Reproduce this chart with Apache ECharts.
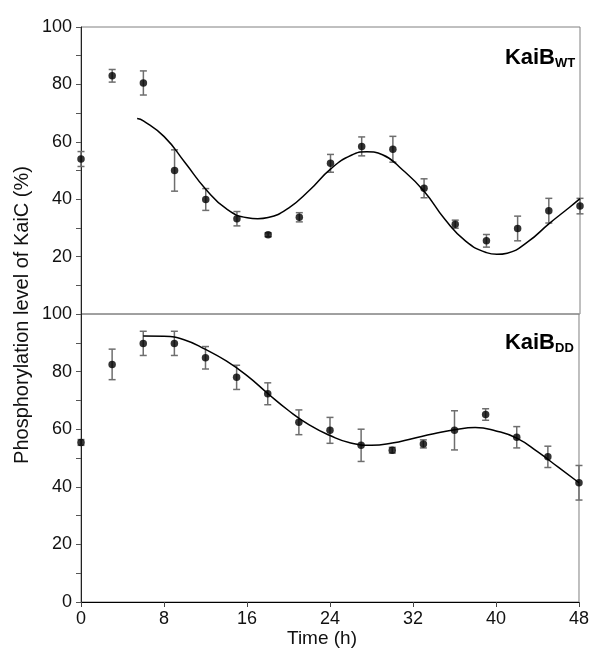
<!DOCTYPE html>
<html>
<head>
<meta charset="utf-8">
<script src="https://cdn.jsdelivr.net/npm/echarts@6/dist/echarts.min.js"></script>
<style>
  html, body { margin: 0; padding: 0; background: #fff; }
  #chart { width: 592px; height: 653px; }
</style>
</head>
<body>
<div id="chart"></div>
<script>
// sampling times (h)
const times = [0, 3, 6, 9, 12, 15, 18, 21, 24, 27, 30, 33, 36, 39, 42, 45, 48]

// KaiB WT (upper panel)
const wtValues = [54, 83, 80.5, 50, 39.9, 33.2, 27.6, 33.7, 52.5, 58.4, 57.4, 43.8, 31.3, 25.5, 29.8, 36, 37.6]
const wtErrors = [2.6, 2.2, 4.2, 7.2, 3.8, 2.5, 0.7, 1.6, 3.1, 3.3, 4.5, 3.3, 1.4, 2.2, 4.3, 4.3, 2.7]
// fitted curve
const wtFitTime = [5.4, 6, 8, 10, 12, 14, 16, 17, 18, 20, 22, 24, 26, 27.5, 29, 31, 33, 35, 37, 39, 40, 41, 43, 45, 47, 48]
const wtFitValue = [68.1, 67.3, 61.8, 52.8, 43.5, 36.6, 33.5, 33.2, 33.6, 37, 43.2, 50.5, 55.3, 56.5, 55.5, 50, 42.8, 33, 25.4, 21.4, 20.8, 21.2, 25.2, 31.4, 37.2, 40.2]

// KaiB DD (lower panel)
const ddValues = [55.4, 82.5, 89.8, 89.8, 84.8, 78, 72.3, 62.4, 59.6, 54.4, 52.7, 54.9, 59.6, 65.1, 57.2, 50.4, 41.4]
const ddErrors = [1, 5.3, 4.2, 4.2, 3.9, 4.2, 3.8, 4.3, 4.5, 5.6, 1, 1.4, 6.8, 2, 3.7, 3.7, 6]
const ddFitTime = [6, 8, 10, 12, 14, 16, 18, 20, 22, 24, 26, 28, 30, 32, 34, 36, 38, 40, 42, 44, 46, 48]
const ddFitValue = [92.4, 92.3, 91, 87.7, 83.7, 78.6, 72.4, 66.5, 61.5, 57.8, 55.2, 54.4, 55.2, 56.8, 58.4, 59.8, 60.6, 59.4, 56.9, 52.2, 46.8, 41.4]

const font = "'Liberation Sans', Arial, sans-serif"
const frameColor = '#808080'
const errColor = '#6e6e6e'

const myChart = echarts.init(document.getElementById('chart'))

// error bar: vertical line with two short caps
function renderErrorBar(params, api) {
    const x = api.value(0)
    const top = api.coord([x, api.value(2)])
    const bottom = api.coord([x, api.value(1)])
    const half = 3.5
    const style = { stroke: errColor, lineWidth: 1.5 }
    return {
        type: 'group',
        children: [
            { type: 'line', shape: { x1: top[0], y1: top[1], x2: bottom[0], y2: bottom[1] }, style },
            { type: 'line', shape: { x1: top[0] - half, y1: top[1], x2: top[0] + half, y2: top[1] }, style },
            { type: 'line', shape: { x1: bottom[0] - half, y1: bottom[1], x2: bottom[0] + half, y2: bottom[1] }, style }
        ]
    }
}

function errData(vals, errs) {
    return times.map((t, i) => [t, vals[i] - errs[i], vals[i] + errs[i]])
}

function yAxisFor(gridIndex) {
    return {
        type: 'value',
        gridIndex,
        min: 0,
        max: 100,
        interval: 20,
        axisLine: { show: true, lineStyle: { color: '#222', width: 1 } },
        axisTick: { show: true, length: 5, lineStyle: { color: '#555' } },
        minorTick: { show: true, splitNumber: 2, length: 5, lineStyle: { color: '#555' } },
        axisLabel: {
            margin: 9,
            color: '#111',
            fontSize: 18,
            fontFamily: font,
            // the upper panel's 0 sits under the lower panel's 100
            formatter: v => (gridIndex === 0 && v === 0) ? '' : v
        },
        splitLine: { show: false }
    }
}

const options = {
    animation: false,
    grid: [
        { left: 81, right: 12, top: 27, height: 287, show: true, borderColor: frameColor, borderWidth: 1 },
        { left: 81, right: 12, top: 314, height: 288, show: true, borderColor: frameColor, borderWidth: 1 }
    ],
    xAxis: [
        {
            type: 'value', gridIndex: 0, min: 0, max: 48, interval: 8,
            axisLine: { show: false }, axisTick: { show: false },
            axisLabel: { show: false }, splitLine: { show: false }
        },
        {
            type: 'value', gridIndex: 1, min: 0, max: 48, interval: 8,
            name: 'Time (h)',
            nameLocation: 'middle',
            nameGap: 25,
            nameTextStyle: { fontSize: 19, fontFamily: font, color: '#111', padding: [0, 16, 0, 0] },
            axisLine: { show: true, lineStyle: { color: '#000', width: 1 } },
            axisTick: { show: true, length: 5, lineStyle: { color: '#444' } },
            axisLabel: { margin: 8, color: '#111', fontSize: 18, fontFamily: font },
            splitLine: { show: false }
        }
    ],
    yAxis: [yAxisFor(0), yAxisFor(1)],
    graphic: [
        {
            type: 'text', x: 22, y: 315, rotation: Math.PI / 2,
            style: {
                text: 'Phosphorylation level of KaiC (%)',
                font: '20px ' + font, fill: '#111',
                align: 'center', verticalAlign: 'middle'
            }
        },
        { type: 'text', x: 555, y: 58, style: { text: 'KaiB', font: 'bold 22px ' + font, fill: '#000', align: 'right', verticalAlign: 'middle' } },
        { type: 'text', x: 555, y: 63, style: { text: 'WT', font: 'bold 13px ' + font, fill: '#000', align: 'left', verticalAlign: 'middle' } },
        { type: 'text', x: 555, y: 343, style: { text: 'KaiB', font: 'bold 22px ' + font, fill: '#000', align: 'right', verticalAlign: 'middle' } },
        { type: 'text', x: 555, y: 348, style: { text: 'DD', font: 'bold 13px ' + font, fill: '#000', align: 'left', verticalAlign: 'middle' } }
    ],
    series: [
        {
            type: 'custom', xAxisIndex: 0, yAxisIndex: 0, z: 2,
            renderItem: renderErrorBar,
            data: errData(wtValues, wtErrors)
        },
        {
            type: 'line', xAxisIndex: 0, yAxisIndex: 0, z: 3,
            smooth: true, showSymbol: false,
            lineStyle: { color: '#000', width: 1.5 },
            data: wtFitTime.map((t, i) => [t, wtFitValue[i]])
        },
        {
            type: 'scatter', xAxisIndex: 0, yAxisIndex: 0, z: 4,
            symbolSize: 7.5, itemStyle: { color: '#000' },
            data: times.map((t, i) => [t, wtValues[i]])
        },
        {
            type: 'custom', xAxisIndex: 1, yAxisIndex: 1, z: 2,
            renderItem: renderErrorBar,
            data: errData(ddValues, ddErrors)
        },
        {
            type: 'line', xAxisIndex: 1, yAxisIndex: 1, z: 3,
            smooth: true, showSymbol: false,
            lineStyle: { color: '#000', width: 1.5 },
            data: ddFitTime.map((t, i) => [t, ddFitValue[i]])
        },
        {
            type: 'scatter', xAxisIndex: 1, yAxisIndex: 1, z: 4,
            symbolSize: 7.5, itemStyle: { color: '#000' },
            data: times.map((t, i) => [t, ddValues[i]])
        }
    ]
}
myChart.setOption(options)
</script>
</body>
</html>
